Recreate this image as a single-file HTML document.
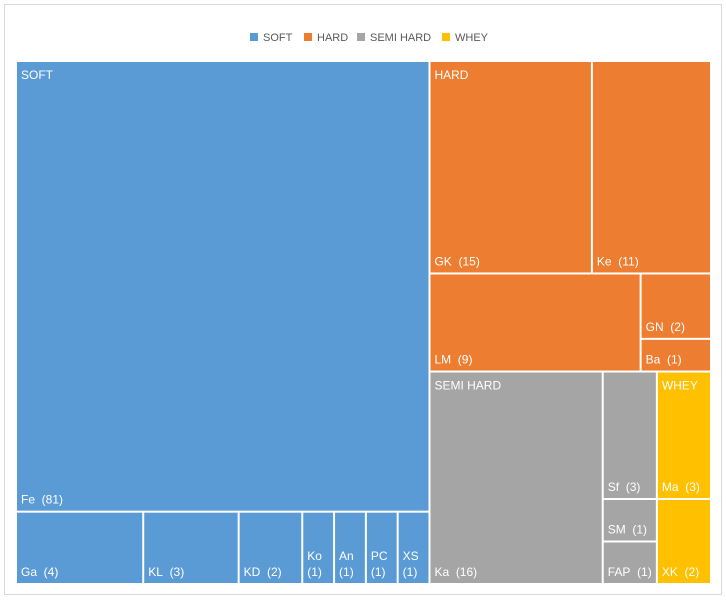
<!DOCTYPE html>
<html><head><meta charset="utf-8"><style>
body{margin:0;background:#fff;}
svg{display:block;font-family:"Liberation Sans",sans-serif;}
</style></head><body>
<svg id="chart" width="726" height="600">
<rect x="4.5" y="4.5" width="717" height="590" fill="#fff" stroke="#d9d9d9"/>
<g id="legend"></g>
<g id="plot"></g>
</svg>
<script>
const groups = ["SOFT","HARD","SEMI HARD","WHEY"];
const colors = ["#5B9BD5","#ED7D31","#A5A5A5","#FFC000"];
const softNames = ["Fe","Ga","KL","KD","Ko","An","PC","XS"];
const softValues = [81,4,3,2,1,1,1,1];
const hardNames = ["GK","Ke","LM","GN","Ba"];
const hardValues = [15,11,9,2,1];
const semiNames = ["Ka","Sf","SM","FAP"];
const semiValues = [16,3,1,1];
const wheyNames = ["Ma","XK"];
const wheyValues = [3,2];

const NS="http://www.w3.org/2000/svg";
const plot=document.getElementById('plot');
const legend=document.getElementById('legend');
const X0=16,Y0=61,W=695,H=523;
const sum=a=>a.reduce((s,v)=>s+v,0);

function leaf(x,y,w,h,name,val,color,groupLabel){
  const g=document.createElementNS(NS,'g');
  
  
  const r=document.createElementNS(NS,'rect');
  r.setAttribute('x',x+1);r.setAttribute('y',y+1);
  r.setAttribute('width',Math.max(0,w-2));r.setAttribute('height',Math.max(0,h-2));
  r.setAttribute('fill',color);
  g.appendChild(r);
  if(w<40){
    const t1=document.createElementNS(NS,'text');
    t1.setAttribute('x',x+5);t1.setAttribute('y',y+h-24);
    t1.setAttribute('fill','#fff');t1.setAttribute('font-size','12');
    t1.textContent=name;g.appendChild(t1);
    const t2=document.createElementNS(NS,'text');
    t2.setAttribute('x',x+5);t2.setAttribute('y',y+h-8);
    t2.setAttribute('fill','#fff');t2.setAttribute('font-size','12');
    t2.textContent='('+val+')';g.appendChild(t2);
  }else{
    const t=document.createElementNS(NS,'text');
    t.setAttribute('x',x+5);t.setAttribute('y',y+h-8);
    t.setAttribute('fill','#fff');t.setAttribute('font-size','12');
    t.textContent=name+'\u00a0\u00a0('+val+')';g.appendChild(t);
  }
  if(groupLabel){
    const t=document.createElementNS(NS,'text');
    t.setAttribute('x',x+5);t.setAttribute('y',y+18);
    t.setAttribute('fill','#fff');t.setAttribute('font-size','12');
    t.textContent=groupLabel;g.appendChild(t);
  }
  plot.appendChild(g);
}
function hslice(x,y,w,h,vals){const s=sum(vals);let cx=x;return vals.map(v=>{const ww=w*v/s;const r=[cx,y,ww,h];cx+=ww;return r;});}
function vslice(x,y,w,h,vals){const s=sum(vals);let cy=y;return vals.map(v=>{const hh=h*v/s;const r=[x,cy,w,hh];cy+=hh;return r;});}

const sS=sum(softValues),sH=sum(hardValues),sM=sum(semiValues),sW=sum(wheyValues);
const cols=hslice(X0,Y0,W,H,[sS,sH+sM+sW]);
{const [x,y,w,h]=cols[0];
 const rows=vslice(x,y,w,h,[softValues[0],sum(softValues.slice(1))]);
 leaf(...rows[0],softNames[0],softValues[0],colors[0],groups[0]);
 hslice(...rows[1],softValues.slice(1)).forEach((r,i)=>leaf(...r,softNames[i+1],softValues[i+1],colors[0]));}
{const [x,y,w,h]=cols[1];
 const rr=vslice(x,y,w,h,[sH,sM+sW]);
 const hr=vslice(...rr[0],[hardValues[0]+hardValues[1],sum(hardValues.slice(2))]);
 hslice(...hr[0],hardValues.slice(0,2)).forEach((r,i)=>leaf(...r,hardNames[i],hardValues[i],colors[1],i===0?groups[1]:null));
 const hb=hslice(...hr[1],[hardValues[2],hardValues[3]+hardValues[4]]);
 leaf(...hb[0],hardNames[2],hardValues[2],colors[1]);
 vslice(...hb[1],hardValues.slice(3)).forEach((r,i)=>leaf(...r,hardNames[i+3],hardValues[i+3],colors[1]));
 const bw=hslice(...rr[1],[sM,sW]);
 const sm=hslice(...bw[0],[semiValues[0],sum(semiValues.slice(1))]);
 leaf(...sm[0],semiNames[0],semiValues[0],colors[2],groups[2]);
 vslice(...sm[1],semiValues.slice(1)).forEach((r,i)=>leaf(...r,semiNames[i+1],semiValues[i+1],colors[2]));
 vslice(...bw[1],wheyValues).forEach((r,i)=>leaf(...r,wheyNames[i],wheyValues[i],colors[3],i===0?groups[3]:null));}

const lx=[250,304,357,442];
groups.forEach((gname,i)=>{
  const g=document.createElementNS(NS,'g');
  
  
  const r=document.createElementNS(NS,'rect');
  r.setAttribute('x',lx[i]);r.setAttribute('y',33);r.setAttribute('width',8);r.setAttribute('height',8);
  r.setAttribute('fill',colors[i]);g.appendChild(r);
  const t=document.createElementNS(NS,'text');
  t.setAttribute('x',lx[i]+13);t.setAttribute('y',41);t.setAttribute('font-size','11');
  t.setAttribute('fill','#595959');t.textContent=gname;g.appendChild(t);
  legend.appendChild(g);
});
</script>
</body></html>
